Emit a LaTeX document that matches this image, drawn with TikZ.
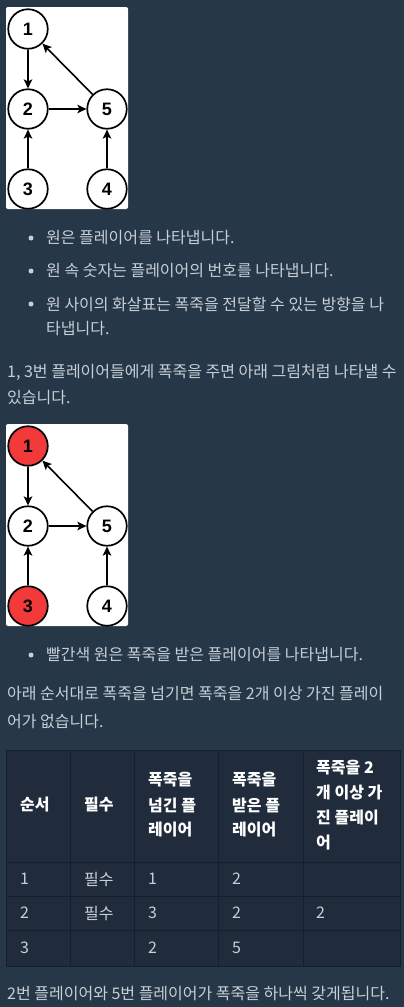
\documentclass[tikz,border=0pt]{standalone}
\usepackage{fontspec}
\setmainfont{Noto Sans CJK KR}
\newfontfamily\numfont{Liberation Sans}
\usetikzlibrary{arrows.meta}
\definecolor{bg}{HTML}{263747}
\definecolor{txt}{HTML}{C7CFD7}
\definecolor{head}{HTML}{FFFFFF}
\definecolor{tblbg}{HTML}{202B3C}
\definecolor{tblline}{HTML}{16202D}
\definecolor{hot}{HTML}{F23A3A}
\tikzset{
  plr/.style={circle,draw=black,line width=1.7pt,minimum size=39.5pt,inner sep=0pt,fill=white,
    font=\numfont\bfseries\fontsize{18}{18}\selectfont},
  hotplr/.style={plr,fill=hot},
  edge/.style={-{Stealth[length=9pt,width=8.5pt,inset=2pt]},line width=1.6pt,black},
  para/.style={anchor=west,inner sep=0pt,text=txt,font=\fontsize{16}{16}\selectfont},
  th/.style={anchor=west,inner sep=0pt,text=head,font=\bfseries\fontsize{16}{16}\selectfont},
  td/.style={anchor=west,inner sep=0pt,text=txt,font=\fontsize{16}{16}\selectfont},
  dot/.style={circle,fill=txt,inner sep=0pt,minimum size=5pt},
  panel/.style={fill=white,rounded corners=2pt},
  grid/.style={draw=tblline,line width=0.9pt}
}
\begin{document}
\begin{tikzpicture}[x=1pt,y=-1pt]
\fill[bg] (0,0) rectangle (404,1007);
\useasboundingbox (0,0) rectangle (404,1007);

% ---------- graph 1 ----------
\fill[panel] (6,7) rectangle (128,209);
\begin{scope}
\clip (6,7) rectangle (128,209);
\node[plr] (a1) at (28,29) {1};
\node[plr] (a2) at (28,109) {2};
\node[plr] (a5) at (107,109) {5};
\node[plr] (a3) at (28,189) {3};
\node[plr] (a4) at (107,189) {4};
\draw[edge] (a1) -- (a2);
\draw[edge] (a2) -- (a5);
\draw[edge] (a5) -- (a1);
\draw[edge] (a3) -- (a2);
\draw[edge] (a4) -- (a5);
\end{scope}

% ---------- bullets 1 ----------
\node[dot] (d1) at (31,238) {};
\node[para] (p1) at (46,238) {원은 플레이어를 나타냅니다.};
\node[dot] (d2) at (31,271) {};
\node[para] (p2) at (46,271) {원 속 숫자는 플레이어의 번호를 나타냅니다.};
\node[dot] (d3) at (31,304) {};
\node[para] (p3) at (46,304) {원 사이의 화살표는 폭죽을 전달할 수 있는 방향을 나};
\node[para] (p4) at (46,329) {타냅니다.};

\node[para] (p5) at (7,372) {1, 3번 플레이어들에게 폭죽을 주면 아래 그림처럼 나타낼 수};
\node[para] (p6) at (7,398) {있습니다.};

% ---------- graph 2 ----------
\fill[panel] (6,424) rectangle (128,626);
\begin{scope}
\clip (6,424) rectangle (128,626);
\node[hotplr] (b1) at (28,446) {1};
\node[plr] (b2) at (28,526) {2};
\node[plr] (b5) at (107,526) {5};
\node[hotplr] (b3) at (28,606) {3};
\node[plr] (b4) at (107,606) {4};
\draw[edge] (b1) -- (b2);
\draw[edge] (b2) -- (b5);
\draw[edge] (b5) -- (b1);
\draw[edge] (b3) -- (b2);
\draw[edge] (b4) -- (b5);
\end{scope}

\node[dot] (d4) at (31,655) {};
\node[para] (p7) at (46,655) {빨간색 원은 폭죽을 받은 플레이어를 나타냅니다.};

\node[para] (p8) at (7,694) {아래 순서대로 폭죽을 넘기면 폭죽을 2개 이상 가진 플레이};
\node[para] (p9) at (7,722) {어가 없습니다.};

% ---------- table ----------
\fill[tblbg] (6,750) rectangle (400,966);
\draw[grid] (6,750) rectangle (400,966);
\foreach \yy in {862,896,930} \draw[grid] (6,\yy) -- (400,\yy);
\foreach \xx in {70,134,218,303} \draw[grid] (\xx,750) -- (\xx,966);

\node[th] (h1) at (20,805) {순서};
\node[th] (h2) at (84,805) {필수};
\node[th] (h3a) at (148,780) {폭죽을};
\node[th] (h3b) at (148,805) {넘긴 플};
\node[th] (h3c) at (148,830) {레이어};
\node[th] (h4a) at (232,780) {폭죽을};
\node[th] (h4b) at (232,805) {받은 플};
\node[th] (h4c) at (232,830) {레이어};
\node[th] (h5a) at (316,768) {폭죽을 2};
\node[th] (h5b) at (316,793) {개 이상 가};
\node[th] (h5c) at (316,818) {진 플레이};
\node[th] (h5d) at (316,843) {어};

\node[td] (r1a) at (20,879) {1};
\node[td] (r1b) at (84,879) {필수};
\node[td] (r1c) at (148,879) {1};
\node[td] (r1d) at (232,879) {2};
\node[td] (r2a) at (20,913) {2};
\node[td] (r2b) at (84,913) {필수};
\node[td] (r2c) at (148,913) {3};
\node[td] (r2d) at (232,913) {2};
\node[td] (r2e) at (316,913) {2};
\node[td] (r3a) at (20,948) {3};
\node[td] (r3c) at (148,948) {2};
\node[td] (r3d) at (232,948) {5};

\node[para] (p10) at (7,993) {2번 플레이어와 5번 플레이어가 폭죽을 하나씩 갖게됩니다.};
\end{tikzpicture}
\end{document}
